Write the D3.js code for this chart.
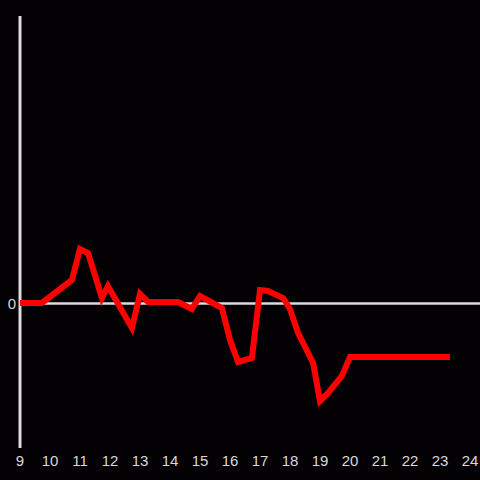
<!doctype html>
<html lang="en">
<head>
<meta charset="utf-8">
<title>chart</title>
<script src="https://cdn.jsdelivr.net/npm/d3@7"></script>
<style>
  html, body { margin: 0; padding: 0; background: #030104; }
  svg { display: block; }
</style>
</head>
<body>
<svg id="chart" width="480" height="480"></svg>
<script>
// hours on the x axis
var hours = [9, 9.73, 10.73, 11, 11.27, 11.73, 11.93, 12.73, 13, 13.27, 14.27, 14.73, 15, 15.73,
             16, 16.27, 16.73, 17, 17.27, 17.77, 18, 18.27, 18.77, 19, 19.27, 19.73, 20, 23.33];
var values = [0, 0, 0.23, 0.54, 0.5, 0.05, 0.17, -0.25, 0.09, 0.01, 0.01, -0.06, 0.07, -0.05,
              -0.37, -0.59, -0.55, 0.13, 0.12, 0.05, -0.06, -0.3, -0.6, -0.98, -0.9, -0.73, -0.54, -0.54];
var xTicks = d3.range(9, 25);
var yTicks = [0];

var svg = d3.select("#chart");
svg.append("rect").attr("width", 480).attr("height", 480).attr("fill", "#030104");

var x = d3.scaleLinear().domain([9, 24]).range([20, 470]);
var y = d3.scaleLinear().domain([-1.45, 2.87]).range([448, 16]);

// zero line
svg.append("line")
  .attr("x1", x(9)).attr("x2", 480)
  .attr("y1", y(0) + 0.5).attr("y2", y(0) + 0.5)
  .attr("stroke", "#dcdcdc").attr("stroke-width", 2.5);

// y axis line
svg.append("line")
  .attr("x1", x(9)).attr("x2", x(9))
  .attr("y1", 16).attr("y2", 448)
  .attr("stroke", "#dcdcdc").attr("stroke-width", 3);

// x tick labels
svg.append("g").selectAll("text")
  .data(xTicks)
  .enter().append("text")
  .attr("x", function(d) { return x(d); })
  .attr("y", 466)
  .attr("text-anchor", "middle")
  .attr("fill", "#d8d8d8")
  .attr("font-family", "Liberation Sans, Arial, sans-serif")
  .attr("font-size", 15)
  .text(function(d) { return d; });

// y tick labels
svg.append("g").selectAll("text")
  .data(yTicks)
  .enter().append("text")
  .attr("x", 16)
  .attr("y", function(d) { return y(d) + 6; })
  .attr("text-anchor", "end")
  .attr("fill", "#d8d8d8")
  .attr("font-family", "Liberation Sans, Arial, sans-serif")
  .attr("font-size", 15)
  .text(function(d) { return d; });

var line = d3.line()
  .x(function(d, i) { return x(hours[i]); })
  .y(function(d) { return y(d); });

svg.append("path")
  .datum(values)
  .attr("fill", "none")
  .attr("stroke", "#ff0000")
  .attr("stroke-width", 6)
  .attr("d", line);
</script>
</body>
</html>
